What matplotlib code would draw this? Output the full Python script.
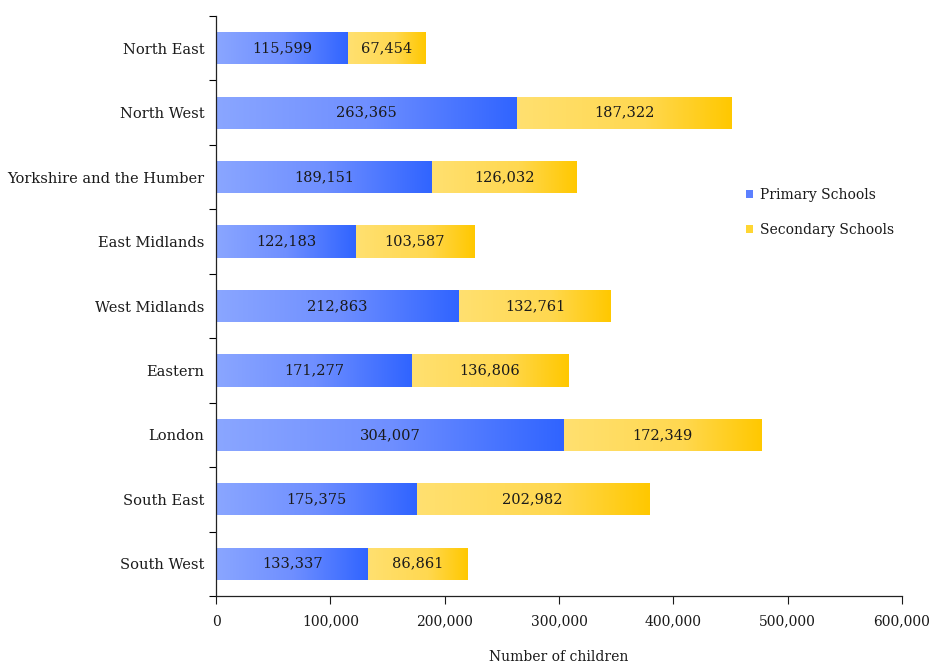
import matplotlib.pyplot as plt
import numpy as np
from matplotlib.colors import LinearSegmentedColormap
from matplotlib.patches import Rectangle
from matplotlib.ticker import FuncFormatter, FixedLocator

regions = [
    "North East",
    "North West",
    "Yorkshire and the Humber",
    "East Midlands",
    "West Midlands",
    "Eastern",
    "London",
    "South East",
    "South West",
]
primary = [115599, 263365, 189151, 122183, 212863, 171277, 304007, 175375, 133337]
secondary = [67454, 187322, 126032, 103587, 132761, 136806, 172349, 202982, 86861]
series_names = ["Primary Schools", "Secondary Schools"]

blue_map = LinearSegmentedColormap.from_list("blue_fade", ["#8aa6ff", "#6f8fff", "#3064ff"])
gold_map = LinearSegmentedColormap.from_list(
    "gold_fade", [(0, "#ffe070"), (0.6, "#ffd850"), (1, "#ffc800")])

plt.rcParams["font.family"] = ["DejaVu Serif"]
plt.rcParams["font.size"] = 10.5
text_color = "#1a1a1a"

fig = plt.figure(figsize=(9.3, 6.62), dpi=100)
ax = fig.add_axes([0.2323, 0.0997, 0.7376, 0.8761])

gradient = np.linspace(0, 1, 256).reshape(1, -1)
bar_h = 0.5
ypos = np.arange(len(regions))


def gradient_bar(ax, y, left, width, cmap):
    # a flat bar for bookkeeping, then a horizontal gradient painted over it
    bar = ax.barh(y, width, left=left, height=bar_h, color="none", edgecolor="none")[0]
    im = ax.imshow(
        gradient,
        cmap=cmap,
        aspect="auto",
        interpolation="bilinear",
        extent=(left, left + width, y + bar_h / 2, y - bar_h / 2),
        zorder=2,
    )
    im.set_clip_path(bar)
    return bar


for i, y in enumerate(ypos):
    gradient_bar(ax, y, 0, primary[i], blue_map)
    gradient_bar(ax, y, primary[i], secondary[i], gold_map)
    ax.text(primary[i] / 2, y, f"{primary[i]:,}", ha="center", va="center",
            color=text_color, zorder=3)
    ax.text(primary[i] + secondary[i] / 2, y, f"{secondary[i]:,}", ha="center",
            va="center", color=text_color, zorder=3)

ax.set_xlim(0, 600000)
ax.set_ylim(len(regions) - 0.5, -0.5)

ax.xaxis.set_major_locator(FixedLocator(np.arange(0, 600001, 100000)))
ax.xaxis.set_major_formatter(FuncFormatter(lambda v, _: f"{int(v):,}"))
ax.yaxis.set_major_locator(FixedLocator(np.arange(-0.5, len(regions), 1.0)))
ax.yaxis.set_major_formatter(FuncFormatter(lambda v, _: ""))
ax.yaxis.set_minor_locator(FixedLocator(ypos))
ax.set_yticklabels(regions, minor=True)
ax.tick_params(axis="y", which="minor", length=0, pad=8.5, colors=text_color)
ax.tick_params(axis="y", which="major", length=5, width=0.8, direction="out")
ax.tick_params(axis="x", length=6, width=0.8, direction="out", pad=7.5,
               colors=text_color, labelsize=10)

for side in ("top", "right"):
    ax.spines[side].set_visible(False)
for side in ("left", "bottom"):
    ax.spines[side].set_color("#222222")
    ax.spines[side].set_linewidth(0.9)

ax.set_xlabel("Number of children", color=text_color, labelpad=15, fontsize=10)

handles = [
    Rectangle((0, 0), 1, 1, facecolor="#5c80ff", edgecolor="none"),
    Rectangle((0, 0), 1, 1, facecolor="#ffd633", edgecolor="none"),
]
fig.legend(handles, series_names, loc="upper left", bbox_to_anchor=(0.802, 0.716),
           frameon=False, borderpad=0, borderaxespad=0,
           handlelength=0.55, handleheight=0.55, handletextpad=0.5,
           labelspacing=1.5, labelcolor=text_color, fontsize=10)

fig.savefig("out.png", dpi=100)
